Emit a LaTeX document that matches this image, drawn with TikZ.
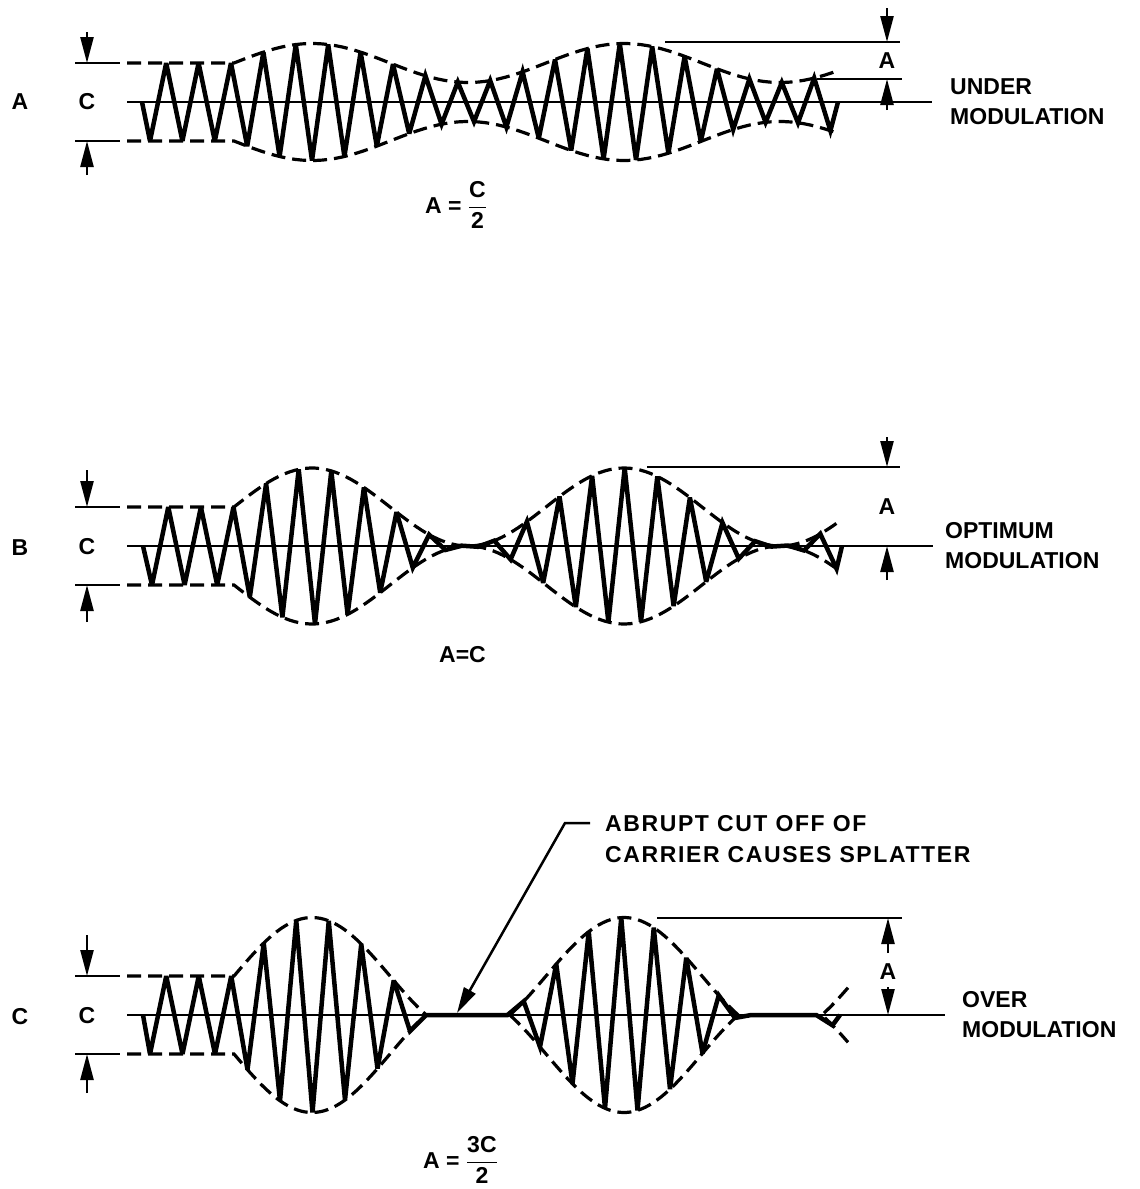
\RequirePackage{fix-cm}
\documentclass[tikz,border=0pt]{standalone}
\usepackage{fontspec}
\setmainfont{Liberation Sans}
\newfontfamily\notefont{Liberation Sans}[LetterSpace=7]
\usetikzlibrary{arrows.meta}

\tikzset{
  declare function={
    envl(\t,\m) = (\t<234) ? 39 : max(0, 39*(1+\m*cos(1.153846*(\t-312))));
  },
  carrier/.style={line width=4.5pt, line join=miter, miter limit=4},
  envline/.style={line width=3.2pt, dash pattern=on 14pt off 7pt},
  axisline/.style={line width=2pt},
  extline/.style={line width=2pt},
  dimarrow/.style={line width=2.5pt, -{Triangle[length=26pt,width=13pt]}},
  lbl/.style={font=\bfseries\fontsize{23}{30}\selectfont, inner sep=0pt},
}

\begin{document}
\begin{tikzpicture}[x=1pt, y=-1pt]
    \useasboundingbox (0,0) rectangle (1140,1189);

    % A: under modulation
    \draw[axisline] (127,102) -- (932,102);
    \draw[carrier] (142,102) \foreach \k in {0,...,42}{
        -- ({150+16.2*\k}, {102+(1-2*mod(\k,2))*envl(150+16.2*\k,0.5)}) } -- (838,102);
    \draw[envline] (127,63) -- (234,63)
        -- plot[domain=234:838, samples=90] (\x, {102-envl(\x,0.5)});
    \draw[envline] (127,141) -- (234,141)
        -- plot[domain=234:838, samples=90] (\x, {102+envl(\x,0.5)});
    \draw[extline] (75,63) -- (120,63);
    \draw[extline] (75,141) -- (120,141);
    \draw[extline] (665,42) -- (900,42);
    \draw[extline] (817,79) -- (902,79);

    \coordinate (aC1) at (87,63);   \coordinate (aC1t) at (87,32);
    \coordinate (aC2) at (87,141);  \coordinate (aC2t) at (87,175);
    \coordinate (aA1) at (887,42);  \coordinate (aA1t) at (887,8);
    \coordinate (aA2) at (887,79);  \coordinate (aA2t) at (887,110);
    \draw[dimarrow] (aC1t) -- (aC1);
    \draw[dimarrow] (aC2t) -- (aC2);
    \draw[dimarrow] (aA1t) -- (aA1);
    \draw[dimarrow] (aA2t) -- (aA2);

    \node[lbl] (pA) at (20,102) {A};
    \node[lbl] (cA) at (87,102) {C};
    \node[lbl] (dA) at (887,61) {A};
    \node[lbl, anchor=west, align=left] (tA) at (950,102) {UNDER\\MODULATION};
    \node[lbl, anchor=base west] (fA) at (425,213) {A = $\displaystyle\frac{\mbox{C}}{\mbox{2}}$};

    % B: optimum modulation
    \draw[axisline] (127,546) -- (933,546);
    \draw[carrier] (143,546) \foreach \k in {0,...,42}{
        -- ({152+16.3*\k}, {546+(1-2*mod(\k,2))*envl(152+16.3*\k,1)}) } -- (842,546);
    \draw[envline] (127,507) -- (234,507)
        -- plot[domain=234:838, samples=120] (\x, {546-envl(\x,1)});
    \draw[envline] (127,585) -- (234,585)
        -- plot[domain=234:838, samples=120] (\x, {546+envl(\x,1)});
    \draw[extline] (75,507) -- (120,507);
    \draw[extline] (75,585) -- (120,585);
    \draw[extline] (647,467) -- (900,467);

    \coordinate (bC1) at (87,507);  \coordinate (bC1t) at (87,470);
    \coordinate (bC2) at (87,585);  \coordinate (bC2t) at (87,622);
    \coordinate (bA1) at (887,467); \coordinate (bA1t) at (887,437);
    \coordinate (bA2) at (887,546); \coordinate (bA2t) at (887,580);
    \draw[dimarrow] (bC1t) -- (bC1);
    \draw[dimarrow] (bC2t) -- (bC2);
    \draw[dimarrow] (bA1t) -- (bA1);
    \draw[dimarrow] (bA2t) -- (bA2);

    \node[lbl] (pB) at (20,548) {B};
    \node[lbl] (cB) at (87,547) {C};
    \node[lbl] (dB) at (887,507) {A};
    \node[lbl, anchor=west, align=left] (tB) at (945,546) {OPTIMUM\\MODULATION};
    \node[lbl, anchor=base west] (fB) at (439,662) {A=C};

    % C: over modulation
    \draw[axisline] (127,1015) -- (945,1015);
    \draw[carrier] (143,1015) \foreach \k in {0,...,42}{
        -- ({150+16.25*\k}, {1015+(1-2*mod(\k,2))*envl(150+16.25*\k,1.5)}) } -- (840,1015);
    \draw[envline] (127,976) -- (234,976)
        -- plot[domain=234:426.2, samples=50] (\x, {1015-envl(\x,1.5)});
    \draw[envline] (127,1054) -- (234,1054)
        -- plot[domain=234:426.2, samples=50] (\x, {1015+envl(\x,1.5)});
    \draw[envline] plot[domain=509.8:738.2, samples=60] (\x, {1015-envl(\x,1.5)});
    \draw[envline] plot[domain=509.8:738.2, samples=60] (\x, {1015+envl(\x,1.5)});
    \draw[envline] plot[domain=848:821.8, samples=10] (\x, {1015-envl(\x,1.5)})
        -- plot[domain=821.8:848, samples=10] (\x, {1015+envl(\x,1.5)});
    \draw[extline] (75,976) -- (120,976);
    \draw[extline] (75,1054) -- (120,1054);
    \draw[extline] (657,918) -- (902,918);

    \coordinate (cC1) at (87,976);  \coordinate (cC1t) at (87,935);
    \coordinate (cC2) at (87,1054); \coordinate (cC2t) at (87,1093);
    \coordinate (cA1) at (888,918); \coordinate (cA1t) at (888,953);
    \coordinate (cA2) at (888,1015);\coordinate (cA2t) at (888,987);
    \draw[dimarrow] (cC1t) -- (cC1);
    \draw[dimarrow] (cC2t) -- (cC2);
    \draw[dimarrow] (cA1t) -- (cA1);
    \draw[dimarrow] (cA2t) -- (cA2);

    \node[lbl] (pC) at (20,1017) {C};
    \node[lbl] (cC) at (87,1016) {C};
    \node[lbl] (dC) at (888,972) {A};
    \node[lbl, anchor=west, align=left] (tC) at (962,1015) {OVER\\MODULATION};
    \node[lbl, anchor=base west] (fC) at (423,1168) {A = $\displaystyle\frac{\mbox{3C}}{\mbox{2}}$};

    % splatter note
    \node[lbl, anchor=west, align=left, font=\notefont\bfseries\fontsize{23}{31}\selectfont] (cut) at (605,839)
        {ABRUPT CUT OFF OF\\CARRIER CAUSES SPLATTER};
    \coordinate (cutstub) at (590,823);
    \coordinate (cutbend) at (565,823);
    \coordinate (cutpt) at (457,1013);
    \draw[dimarrow] (cutstub) -- (cutbend) -- (cutpt);
\end{tikzpicture}
\end{document}
